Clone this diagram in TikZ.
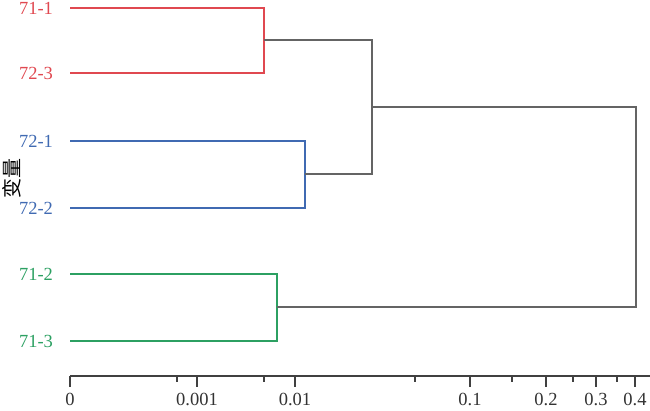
\documentclass[tikz,border=0pt]{standalone}
\usepackage{fontspec}
\setmainfont{Liberation Serif}
\newfontfamily\cjk{Noto Sans CJK SC}
\definecolor{cred}{RGB}{224,72,80}
\definecolor{cblue}{RGB}{64,106,178}
\definecolor{cgreen}{RGB}{44,160,98}
\definecolor{cgrey}{RGB}{100,100,100}
\begin{document}
\begin{tikzpicture}[x=1pt,y=-1pt,
    leaf/.style={font=\fontsize{18.5}{18.5}\selectfont},
    branch/.style={line width=1.9pt},
    ticklab/.style={font=\fontsize{18.5}{18.5}\selectfont}]
\useasboundingbox (0,0) rectangle (650,410);
% leaves and their labels
\node[leaf,text=cred] (l1) at (36,8) {71-1};
\node[leaf,text=cred] (l2) at (36,73) {72-3};
\node[leaf,text=cblue] (l3) at (36,141) {72-1};
\node[leaf,text=cblue] (l4) at (36,208) {72-2};
\node[leaf,text=cgreen] (l5) at (36,274) {71-2};
\node[leaf,text=cgreen] (l6) at (36,341) {71-3};
\foreach \k/\y in {1/8,2/73,3/141,4/208,5/274,6/341}{
  \coordinate (a\k) at (70,\y);
}
\node[rotate=90,font=\cjk\fontsize{20}{20}\selectfont] (var) at (12,178) {变量};
% joins
\coordinate (jr) at (264,40);
\coordinate (jb) at (305,174);
\coordinate (jg) at (277,307);
\coordinate (jrb) at (372,107);
\coordinate (jtop) at (636,207);
\draw[branch,cred] (a1) -| (jr) |- (a2);
\draw[branch,cblue] (a3) -| (jb) |- (a4);
\draw[branch,cgreen] (a5) -| (jg) |- (a6);
\draw[branch,cgrey,line width=2.2pt] (jr) -| (jrb) |- (jb);
\draw[branch,cgrey,line width=2.2pt] (jrb) -| (jtop) |- (jg);
% axis
\coordinate (ax0) at (70,376);
\coordinate (ax1) at (650,376);
\draw[line width=1.6pt,black!75] (ax0) -- (ax1);
\foreach \x/\t in {70/0,197/0.001,295/0.01,470/0.1,546/0.2,596/0.3,635/0.4}{
  \draw[line width=1.4pt,black!75] (\x,376) -- (\x,387);
  \node[ticklab,text=black!80] at (\x,399) {\t};
}
\foreach \x in {177,264,415,512,573,617}{
  \draw[line width=1.3pt,black!75] (\x,376) -- (\x,382);
}
\end{tikzpicture}
\end{document}
